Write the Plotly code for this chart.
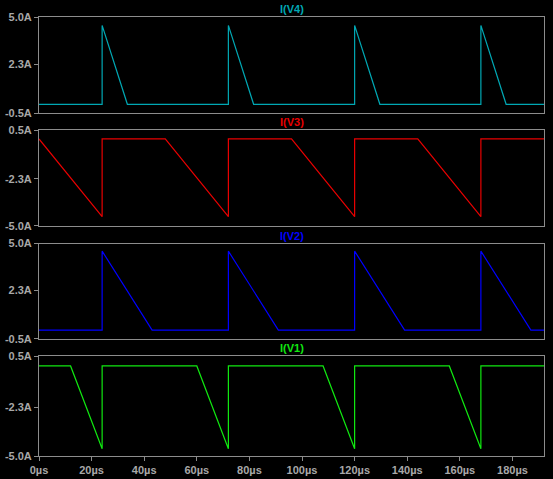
import plotly.graph_objects as go

# Breakpoints of each branch current (time in µs, current in A)
t_v4 = [0, 24, 24, 33.6, 72, 72, 81.6, 120, 120, 129.6, 168, 168, 177.6, 192]
i_v4 = [0, 0, 4.52, 0, 0, 4.52, 0, 0, 4.52, 0, 0, 4.52, 0, 0]

t_v3 = [0, 24, 24, 48, 72, 72, 96, 120, 120, 144, 168, 168, 192]
i_v3 = [0, -4.48, 0, 0, -4.48, 0, 0, -4.48, 0, 0, -4.48, 0, 0]

t_v2 = [0, 24, 24, 43, 72, 72, 91, 120, 120, 139, 168, 168, 187, 192]
i_v2 = [0, 0, 4.56, 0, 0, 4.56, 0, 0, 4.56, 0, 0, 4.56, 0, 0]

t_v1 = [0, 12, 24, 24, 60, 72, 72, 108, 120, 120, 156, 168, 168, 192]
i_v1 = [-0.03, -0.03, -4.6, -0.03, -0.03, -4.6, -0.03, -0.03, -4.6, -0.03, -0.03, -4.6, -0.03, -0.03]

names = ["I(V4)", "I(V3)", "I(V2)", "I(V1)"]
colors = ["#00a8b4", "#e80000", "#0000ff", "#10e810"]
series = [(t_v4, i_v4), (t_v3, i_v3), (t_v2, i_v2), (t_v1, i_v1)]

pos_ticks = [-0.5, 2.3, 5.0]
pos_text = ["-0.5A", "2.3A", "5.0A"]
neg_ticks = [-5.0, -2.3, 0.5]
neg_text = ["-5.0A", "-2.3A", "0.5A"]
y_ranges = [[-0.5, 5.0], [-5.0, 0.5], [-0.5, 5.0], [-5.0, 0.5]]
y_tickvals = [pos_ticks, neg_ticks, pos_ticks, neg_ticks]
y_ticktext = [pos_text, neg_text, pos_text, neg_text]

x_ticks = [0, 20, 40, 60, 80, 100, 120, 140, 160, 180]
x_text = [f"{v}µs" for v in x_ticks]

domains = [[0.7813, 1.0], [0.5246, 0.742], [0.2672, 0.484], [0.0, 0.2271]]

frame = "#8c8c8c"
label = "#a8a8a8"
font = dict(family="Liberation Sans", size=11, color=label, weight="bold")

fig = go.Figure()
for k, ((t, i), name, col) in enumerate(zip(series, names, colors)):
    n = "" if k == 0 else str(k + 1)
    fig.add_trace(go.Scatter(x=t, y=i, mode="lines", name=name,
                             line=dict(color=col, width=1.2),
                             xaxis="x" + n, yaxis="y" + n, showlegend=False,
                             hoverinfo="skip"))
    last = k == 3
    fig.update_layout(**{
        "xaxis" + n: dict(domain=[0, 1], anchor="y" + n, range=[0, 192],
                          showgrid=False, zeroline=False, showline=True,
                          linecolor=frame, linewidth=1, mirror=True,
                          ticks="outside" if last else "", ticklen=4,
                          tickcolor=frame, tickvals=x_ticks, ticktext=x_text,
                          showticklabels=last, tickfont=font,
                          automargin=False),
        "yaxis" + n: dict(domain=domains[k], anchor="x" + n, range=y_ranges[k],
                          showgrid=False, zeroline=False, showline=True,
                          linecolor=frame, linewidth=1, mirror=True,
                          ticks="outside", ticklen=4, tickcolor=frame,
                          tickvals=y_tickvals[k], ticktext=y_ticktext[k],
                          tickfont=font, automargin=False),
    })
    fig.add_annotation(text=name, xref="paper", yref="paper", x=0.5,
                       y=domains[k][1], xanchor="center", yanchor="bottom",
                       yshift=0, showarrow=False,
                       font=dict(family="Liberation Sans", size=11, color=col,
                                 weight="bold"))

fig.update_layout(width=553, height=479, paper_bgcolor="black",
                  plot_bgcolor="black",
                  margin=dict(l=39, r=9, t=17, b=23))

fig.write_html("out.html")
